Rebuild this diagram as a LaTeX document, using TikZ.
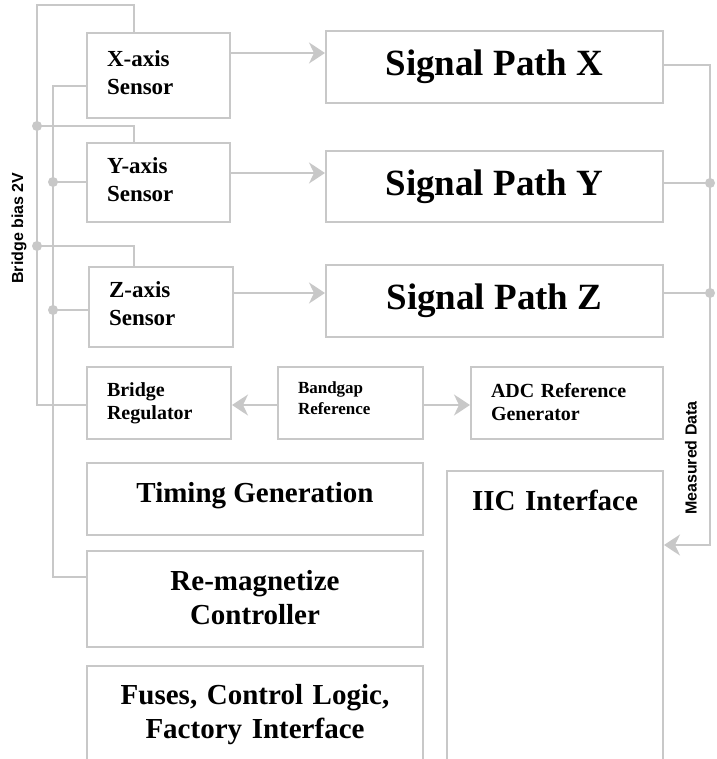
\documentclass[tikz,border=0pt]{standalone}
\usepackage{fontspec}
\setmainfont{Liberation Serif}
\newfontfamily\arialfont{Liberation Sans}
\usetikzlibrary{arrows.meta}
\definecolor{lg}{HTML}{C8C8C8}
\tikzset{
  box/.style={draw=lg, line width=2pt, rectangle, anchor=north west, inner sep=0pt, text=black},
  lbox/.style={align=left, inner xsep=20pt},
  cbox/.style={align=center},
  wire/.style={draw=lg, line width=2pt},
  arr/.style={wire, -{Stealth[length=16pt, width=21pt, inset=5pt, color=lg, fill=lg]}},
  dot/.style={circle, fill=lg, inner sep=0pt, minimum size=10pt},
  vlabel/.style={rotate=90, text=black, font=\arialfont\bfseries\fontsize{16}{19}\selectfont},
  fsens/.style={font=\bfseries\fontsize{23}{28}\selectfont, text depth=34pt},
  fsig/.style={font=\bfseries\fontsize{37}{44}\selectfont},
  fmid/.style={font=\bfseries\fontsize{20}{23}\selectfont},
  fsmall/.style={font=\bfseries\fontsize{17}{21}\selectfont},
  fbig/.style={font=\bfseries\fontsize{29}{34}\selectfont}
}
\begin{document}
\begin{tikzpicture}[x=1pt, y=-1pt]
\clip (0,0) rectangle (716,759);
\fill[white] (0,0) rectangle (716,759);

% sensors
\node[box, lbox, fsens, text width=103pt, minimum width=143pt, minimum height=85pt] (xs) at (86,32) {X-axis\\Sensor};
\node[box, lbox, fsens, text width=103pt, minimum width=143pt, minimum height=79pt] (ys) at (86,142) {Y-axis\\Sensor};
\node[box, lbox, fsens, text width=104pt, minimum width=144pt, minimum height=80pt] (zs) at (88,266) {Z-axis\\Sensor};

% signal paths
\node[box, cbox, fsig, minimum width=337pt, minimum height=72pt] (spx) at (325,30) {Signal Path X};
\node[box, cbox, fsig, minimum width=337pt, minimum height=71pt] (spy) at (325,150) {Signal Path Y};
\node[box, cbox, fsig, minimum width=337pt, minimum height=72pt] (spz) at (325,264) {Signal Path Z};

% reference row
\node[box, lbox, fmid, text width=104pt, minimum width=144pt, minimum height=72pt] (br) at (86,366) {Bridge\\Regulator};
\node[box, lbox, fsmall, text width=105pt, minimum width=145pt, minimum height=72pt, text depth=31pt] (bg) at (277,366) {Bandgap\\Reference};
\node[box, lbox, fmid, text width=152pt, minimum width=192pt, minimum height=72pt, text depth=26pt] (adc) at (470,366) {ADC Reference\\Generator};

% lower blocks
\node[box, cbox, fbig, minimum width=336pt, minimum height=72pt, text depth=14pt] (tg) at (86,462) {Timing Generation};
\node[box, cbox, fbig, minimum width=336pt, minimum height=96pt, text depth=4pt] (rm) at (86,550) {Re-magnetize\\Controller};
\node[box, cbox, fbig, text width=296pt, inner xsep=20pt, minimum width=336pt, inner ysep=18pt, text depth=140pt] (fu) at (86,665) {Fuses, Control Logic,\\Factory Interface};
\node[box, cbox, fbig, text width=176pt, inner xsep=20pt, minimum width=216pt, inner ysep=19pt, text depth=320pt] (iic) at (446,470) {IIC Interface};

% junction coordinates
\coordinate (bb) at (37,405);
\coordinate (bt1) at (37,5);
\coordinate (bt2) at (134,5);
\coordinate (c1) at (37,126);
\coordinate (c1r) at (134,126);
\coordinate (c2) at (37,246);
\coordinate (c2r) at (134,246);
\coordinate (ib) at (53,86);
\coordinate (ibb) at (53,577);
\coordinate (c3) at (53,182);
\coordinate (c4) at (53,310);
\coordinate (rt) at (710,65);
\coordinate (rb) at (710,545);
\coordinate (c5) at (710,183);
\coordinate (c6) at (710,293);

% bridge bias bus
\draw[wire] (br.west |- bb) -- (bb) -- (bt1) -- (bt2) -- (bt2 |- xs.north);
\draw[wire] (c1) -- (c1r) -- (c1r |- ys.north);
\draw[wire] (c2) -- (c2r) -- (c2r |- zs.north);

% inner bus
\draw[wire] (xs.west |- ib) -- (ib) -- (ibb) -- (rm.west |- ibb);
\draw[wire] (c3) -- (ys.west |- c3);
\draw[wire] (c4) -- (zs.west |- c4);

% sensor to signal path arrows
\draw[arr] (xs.east |- 0,53) -- (spx.west |- 0,53);
\draw[arr] (ys.east |- 0,173) -- (spy.west |- 0,173);
\draw[arr] (zs.east |- 0,293) -- (spz.west |- 0,293);

% bandgap arrows
\draw[arr] (bg.west |- 0,405) -- (br.east |- 0,405);
\draw[arr] (bg.east |- 0,405) -- (adc.west |- 0,405);

% measured data bus
\draw[arr] (spx.east |- rt) -- (rt) -- (rb) -- (iic.east |- rb);
\draw[wire] (spy.east |- c5) -- (c5);
\draw[wire] (spz.east |- c6) -- (c6);

% dots
\node[dot] (n1) at (c1) {};
\node[dot] (n2) at (c2) {};
\node[dot] (n3) at (c3) {};
\node[dot] (n4) at (c4) {};
\node[dot] (n5) at (c5) {};
\node[dot] (n6) at (c6) {};

% rotated labels
\node[vlabel] (lbias) at (19,228) {Bridge bias 2V};
\node[vlabel] (lmeas) at (691,458) {Measured Data};
\end{tikzpicture}
\end{document}
